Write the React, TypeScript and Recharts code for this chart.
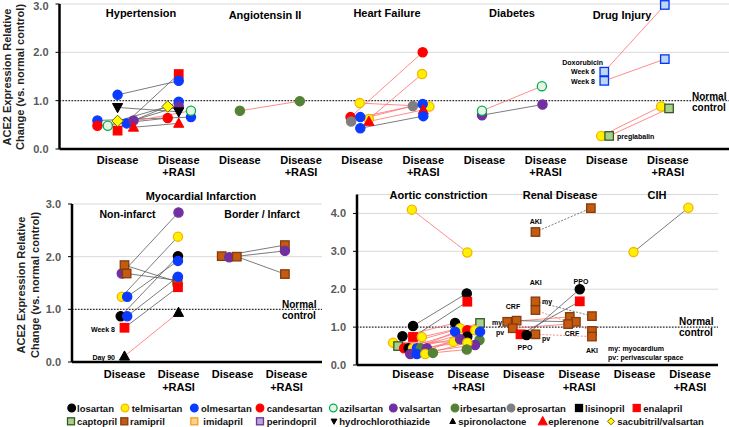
import React from 'react';
import { ScatterChart, Scatter, XAxis, YAxis, CartesianGrid, ReferenceLine } from 'recharts';

// [drug, disease x, disease y, +RASI x, +RASI y, link]
// x = category index (Disease / Disease+RASI) plus the small spread used in the figure
type Pair = [string, number, number, number, number, string];

const topCats = [0, 1, 2, 3, 4, 5, 6, 7, 8, 9];
const miCats = [0, 1, 2, 3];
const lowerCats = [0, 1, 2, 3, 4, 5];
const topTicks = [0, 1, 2, 3];
const lowerTicks = [0, 1, 2, 3, 4];

const hypertension: Pair[] = [
  ['enalapril', 0, 0.38, 1.0, 1.55, 'k'],
  ['olmesartan', 0, 1.12, 1.0, 1.41, 'k'],
  ['olmesartan', 0.15, 0.53, 1.0, 0.98, 'k'],
  ['olmesartan', -0.33, 0.59, 1.2, 0.66, 'k'],
  ['candesartan', -0.33, 0.48, 0.82, 0.64, 'k'],
  ['azilsartan', -0.16, 0.48, 1.2, 0.79, 'r'],
  ['sacubitril/valsartan', 0, 0.58, 0.82, 0.88, 'k'],
  ['valsartan', 0.26, 0.59, 1.0, 0.88, 'k'],
  ['hydrochlorothiazide', 0, 0.86, 1.0, 0.77, 'k'],
  ['eplerenone', 0.26, 0.45, 1.0, 0.53, 'k'],
];

const angiotensin: Pair[] = [
  ['irbesartan', 2.0, 0.79, 2.98, 0.99, 'r'],
];

const heartFailure: Pair[] = [
  ['candesartan', 3.81, 0.66, 4.99, 2.0, 'r'],
  ['telmisartan', 4.11, 0.62, 4.98, 1.55, 'r'],
  ['telmisartan', 3.96, 0.95, 5.1, 0.88, 'r'],
  ['eprosartan', 3.82, 0.57, 4.83, 0.89, 'r'],
  ['olmesartan', 3.97, 0.66, 4.99, 0.93, 'r'],
  ['eplerenone', 4.11, 0.57, 5.0, 0.81, 'r'],
  ['olmesartan', 3.97, 0.43, 5.0, 0.68, 'k'],
];

const diabetes: Pair[] = [
  ['valsartan', 5.96, 0.7, 6.95, 0.92, 'k'],
  ['azilsartan', 5.96, 0.79, 6.94, 1.3, 'r'],
];

const drugInjury: Pair[] = [
  ['doxorubicin', 7.96, 1.6, 8.95, 2.98, 'r'],
  ['doxorubicin', 7.96, 1.41, 8.95, 1.86, 'r'],
  ['telmisartan', 7.91, 0.27, 8.89, 0.88, 'r'],
  ['captopril', 8.04, 0.27, 9.02, 0.84, 'r'],
];

const miNonInfarct: Pair[] = [
  ['valsartan', -0.05, 1.68, 1.0, 2.84, 'k'],
  ['ramipril', 0, 1.84, 0.98, 1.52, 'k'],
  ['ramipril', 0.04, 1.68, 0.98, 1.55, 'k'],
  ['telmisartan', -0.05, 1.24, 0.99, 2.38, 'k'],
  ['losartan', -0.07, 0.87, 0.99, 2.01, 'k'],
  ['olmesartan', 0.05, 1.24, 0.99, 1.92, 'k'],
  ['olmesartan', 0.05, 0.87, 0.99, 1.62, 'k'],
  ['enalapril', 0, 0.65, 0.99, 1.42, 'k'],
  ['spironolactone', 0, 0.11, 1.0, 0.94, 'r'],
];

const miBorder: Pair[] = [
  ['ramipril', 1.8, 2.01, 2.97, 2.22, 'k'],
  ['valsartan', 1.94, 1.99, 2.97, 2.11, 'k'],
  ['ramipril', 2.08, 2.0, 2.97, 1.67, 'k'],
];

const aortic: Pair[] = [
  ['telmisartan', -0.02, 4.1, 0.98, 2.97, 'r'],
  ['losartan', 0, 1.03, 0.97, 1.89, 'k'],
  ['losartan', -0.19, 0.76, 0.76, 1.11, 'r'],
  ['enalapril', 0, 0.74, 0.98, 1.67, 'k'],
  ['telmisartan', 0.16, 0.74, 0.85, 0.97, 'r'],
  ['telmisartan', -0.36, 0.59, 0.73, 0.61, 'r'],
  ['captopril', -0.27, 0.5, 1.21, 1.11, 'r'],
  ['candesartan', -0.16, 0.44, 0.98, 0.92, 'r'],
  ['losartan', -0.08, 0.44, 0.98, 0.75, 'r'],
  ['telmisartan', 0, 0.44, 1.12, 0.92, 'r'],
  ['olmesartan', 0.07, 0.44, 0.76, 0.88, 'r'],
  ['irbesartan', 0.14, 0.44, 1.2, 0.66, 'r'],
  ['valsartan', 0.25, 0.44, 0.85, 0.68, 'r'],
  ['valsartan', -0.05, 0.29, 1.12, 0.53, 'r'],
  ['olmesartan', 0.07, 0.29, 1.21, 0.88, 'r'],
  ['telmisartan', 0.22, 0.29, 0.98, 0.59, 'r'],
  ['irbesartan', 0.36, 0.32, 0.97, 0.41, 'r'],
];

const renal: Pair[] = [
  ['ramipril', 2.21, 3.51, 3.21, 4.14, 'kd'],
  ['ramipril', 2.21, 1.68, 3.23, 1.29, 'kd'],
  ['ramipril', 2.21, 1.45, 3.23, 0.9, 'rd'],
  ['ramipril', 1.7, 1.14, 2.83, 1.27, 'r'],
  ['ramipril', 1.87, 1.17, 2.94, 1.14, 'k'],
  ['ramipril', 1.8, 0.97, 2.8, 1.08, 'r'],
  ['ramipril', 2.21, 0.81, 3.23, 0.75, 'rd'],
  ['enalapril', 1.94, 0.81, 3.01, 1.68, 'k'],
  ['losartan', 2.05, 0.79, 3.01, 2.0, 'k'],
];

const cih: Pair[] = [
  ['telmisartan', 3.98, 2.98, 4.97, 4.15, 'k'],
];

const legendRow1 = ['losartan', 'telmisartan', 'olmesartan', 'candesartan', 'azilsartan', 'valsartan', 'irbesartan', 'eprosartan', 'lisinopril', 'enalapril'];
const legendRow2 = ['captopril', 'ramipril', 'imidapril', 'perindopril', 'hydrochlorothiazide', 'spironolactone', 'eplerenone', 'sacubitril/valsartan'];

// shape, fill, stroke
const STYLE: Record<string, [string, string, string]> = {
  losartan: ['c', '#000000', '#000000'],
  telmisartan: ['c', '#FFF200', '#F5B400'],
  olmesartan: ['c', '#0B3BFF', '#0B3BFF'],
  candesartan: ['c', '#FF0000', '#FF0000'],
  azilsartan: ['c', '#E6F4E6', '#00B050'],
  valsartan: ['c', '#7030A0', '#7030A0'],
  irbesartan: ['c', '#548235', '#548235'],
  eprosartan: ['c', '#7F7F7F', '#7F7F7F'],
  lisinopril: ['q', '#000000', '#000000'],
  enalapril: ['q', '#FF0000', '#FF0000'],
  captopril: ['q', '#A9D18E', '#385723'],
  ramipril: ['q', '#C55A11', '#843C0C'],
  imidapril: ['q', '#FFD08A', '#F4A020'],
  perindopril: ['q', '#B4A7D6', '#7030A0'],
  hydrochlorothiazide: ['v', '#000000', '#000000'],
  spironolactone: ['u', '#000000', '#000000'],
  eplerenone: ['u', '#FF0000', '#FF0000'],
  'sacubitril/valsartan': ['m', '#FFFF00', '#7F6000'],
  doxorubicin: ['q', '#BDD7EE', '#0033FF'],
};

const LINKS: Record<string, object> = {
  r: { stroke: '#FF6F6F', strokeWidth: 0.8 },
  k: { stroke: '#5A5A5A', strokeWidth: 0.8 },
  rd: { stroke: '#FF6F6F', strokeWidth: 0.8, strokeDasharray: '2 1.5' },
  kd: { stroke: '#5A5A5A', strokeWidth: 0.8, strokeDasharray: '2 1.5' },
};

const Glyph = ({ d, cx, cy, r }: { d: string; cx: number; cy: number; r: number }) => {
  const [s, f, k] = STYLE[d];
  if (s === 'c') return <circle cx={cx} cy={cy} r={r} fill={f} stroke={k} strokeWidth={1.3} />;
  if (s === 'q') {
    const h = r * 0.92;
    return <rect x={cx - h} y={cy - h} width={h * 2} height={h * 2} fill={f} stroke={k} strokeWidth={1.3} />;
  }
  if (s === 'u')
    return <polygon points={`${cx},${cy - r * 1.15} ${cx + r * 1.1},${cy + r * 0.85} ${cx - r * 1.1},${cy + r * 0.85}`} fill={f} stroke={k} />;
  if (s === 'v')
    return <polygon points={`${cx},${cy + r * 1.15} ${cx + r * 1.1},${cy - r * 0.85} ${cx - r * 1.1},${cy - r * 0.85}`} fill={f} stroke={k} />;
  return <polygon points={`${cx},${cy - r * 1.25} ${cx + r * 1.25},${cy} ${cx},${cy + r * 1.25} ${cx - r * 1.25},${cy}`} fill={f} stroke={k} strokeWidth={1} />;
};

const CatTick = (props: any) => {
  const { x, y, payload, dy, gap } = props;
  return (
    <text x={x} y={y + dy} textAnchor="middle" fontSize={11} fontWeight="bold" fill="#000">
      <tspan x={x}>Disease</tspan>
      {payload.value % 2 === 1 && <tspan x={x} dy={gap}>+RASI</tspan>}
    </text>
  );
};

const Nothing = () => <g />;

const Marker = (p: any) => <Glyph d={p.payload.d} cx={p.cx} cy={p.cy} r={4.6} />;

interface PanelProps {
  pairs: Pair[];
  width: number;
  height: number;
  margin: { top: number; right: number; bottom: number; left: number };
  xDomain: [number, number];
  cats: number[];
  yDomain: [number, number];
  yTicks: number[];
  yWidth: number;
  dy: number;
  gap: number;
}

const Panel = ({ pairs, width, height, margin, xDomain, cats, yDomain, yTicks, yWidth, dy, gap }: PanelProps) => {
  const points = pairs.flatMap((p) => [
    { x: p[1], y: p[2], d: p[0] },
    { x: p[3], y: p[4], d: p[0] },
  ]);
  return (
    <ScatterChart width={width} height={height} margin={margin}>
      <CartesianGrid vertical={false} stroke="#D9D9D9" />
      <XAxis
        type="number"
        dataKey="x"
        domain={xDomain}
        ticks={cats}
        interval={0}
        tickSize={0}
        tickMargin={0}
        tickLine={false}
        height={30}
        axisLine={{ stroke: '#000', strokeWidth: 2.5 }}
        tick={<CatTick dy={dy} gap={gap} />}
      />
      <YAxis
        type="number"
        dataKey="y"
        domain={yDomain}
        ticks={yTicks}
        width={yWidth}
        tickSize={4}
        tickMargin={7}
        tickFormatter={(v: number) => v.toFixed(1)}
        tick={{ fill: '#595959', fontSize: 11, fontWeight: 'bold' }}
        tickLine={{ stroke: '#000' }}
        axisLine={{ stroke: '#000', strokeWidth: 2.5 }}
      />
      <ReferenceLine y={1} stroke="#333" strokeDasharray="1.5 1.5" strokeWidth={1.3} />
      {pairs.map((p, i) => (
        <Scatter
          key={i}
          data={[{ x: p[1], y: p[2] }, { x: p[3], y: p[4] }]}
          fill="none"
          line={LINKS[p[5]]}
          shape={Nothing}
          isAnimationActive={false}
        />
      ))}
      <Scatter data={points} shape={Marker} isAnimationActive={false} />
    </ScatterChart>
  );
};

// [text, x, y, anchor, size]
const notes: [string, number, number, string, number][] = [
  ['Hypertension', 141, 13, 'middle', 11],
  ['Angiotensin II', 265, 15, 'middle', 11],
  ['Heart Failure', 387, 13, 'middle', 11],
  ['Diabetes', 512, 13, 'middle', 11],
  ['Drug Injury', 622, 15, 'middle', 11],
  ['Doxorubicin', 603, 62, 'end', 7],
  ['Week 6', 595, 71.5, 'end', 7],
  ['Week 8', 595, 81.5, 'end', 7],
  ['preglabalin', 617, 136, 'start', 7],
  ['Normal', 692, 96, 'start', 10],
  ['control', 692, 107.5, 'start', 10],
  ['Myocardial Infarction', 201, 196, 'middle', 11],
  ['Non-infarct', 127.5, 214, 'middle', 10.5],
  ['Border / Infarct', 262, 214, 'middle', 10.5],
  ['Normal', 282, 304, 'start', 10],
  ['control', 282, 315, 'start', 10],
  ['Week 8', 115, 329, 'end', 7],
  ['Day 90', 115, 357, 'end', 7],
  ['Aortic constriction', 438.5, 195, 'middle', 11],
  ['Renal Disease', 560, 195, 'middle', 11],
  ['CIH', 657, 195, 'middle', 11],
  ['AKI', 535.7, 221, 'middle', 7],
  ['AKI', 535.7, 282, 'middle', 7],
  ['PPO', 581, 281, 'middle', 7],
  ['my', 542, 301, 'start', 7],
  ['CRF', 513, 306, 'middle', 7],
  ['my', 497, 322, 'middle', 7],
  ['pv', 500, 332, 'middle', 7],
  ['PPO', 525, 347, 'middle', 7],
  ['pv', 542, 338.5, 'start', 7],
  ['CRF', 572, 333.5, 'middle', 7],
  ['AKI', 592, 350, 'middle', 7],
  ['my: myocardium', 608, 348, 'start', 7],
  ['pv: perivascular space', 608, 357, 'start', 7],
  ['Normal', 679, 321, 'start', 10],
  ['control', 679, 332, 'start', 10],
];

const legendMarkX = [
  [71.7, 125, 194.3, 260, 333.3, 393.3, 455, 511, 579, 636.7],
  [71, 124.3, 194.3, 260, 334, 452.7, 542.7, 611],
];
const legendTextX = [
  [77, 131.7, 201, 266.7, 339.3, 399.3, 460, 516.7, 585, 643.3],
  [77, 130, 203.3, 266.7, 339.3, 458.3, 548.3, 617.3],
];
const legendMarkR: Record<string, number> = {
  hydrochlorothiazide: 2.6,
  spironolactone: 2.6,
  'sacubitril/valsartan': 2.8,
  eplerenone: 4.2,
};

const YTitle = ({ x, y, gap }: { x: number; y: number; gap: number }) => (
  <g fontSize={11} fontWeight="bold" fill="#222" textAnchor="middle">
    <text transform={`translate(${x},${y}) rotate(-90)`} dominantBaseline="central">ACE2 Expression Relative</text>
    <text transform={`translate(${x + gap},${y}) rotate(-90)`} dominantBaseline="central">Change (vs. normal control)</text>
  </g>
);

export default function App() {
  return (
    <div
      style={{
        position: 'absolute',
        left: 0,
        top: 0,
        width: 729,
        height: 427,
        background: '#fff',
        fontFamily: "'Liberation Sans', Arial, sans-serif",
      }}
    >
      <div style={{ position: 'absolute', left: 0, top: 0 }}>
        <Panel
          pairs={[...hypertension, ...angiotensin, ...heartFailure, ...diabetes, ...drugInjury]}
          width={729}
          height={184}
          margin={{ top: 4, right: 0, bottom: 5, left: 0 }}
          xDomain={[-0.95, 10]}
          cats={topCats}
          yDomain={[0, 3]}
          yTicks={topTicks}
          yWidth={59.5}
          dy={14.7}
          gap={12.6}
        />
      </div>
      <div style={{ position: 'absolute', left: 0, top: 190 }}>
        <Panel
          pairs={[...miNonInfarct, ...miBorder]}
          width={324}
          height={202}
          margin={{ top: 14, right: 2, bottom: 0, left: 0 }}
          xDomain={[-0.972, 3.657]}
          cats={miCats}
          yDomain={[0, 3]}
          yTicks={topTicks}
          yWidth={72}
          dy={15.5}
          gap={13}
        />
      </div>
      <div style={{ position: 'absolute', left: 324, top: 190 }}>
        <Panel
          pairs={[...aortic, ...renal, ...cih]}
          width={405}
          height={205}
          margin={{ top: 4.5, right: 11, bottom: 0, left: 0 }}
          xDomain={[-1.011, 5.505]}
          cats={lowerCats}
          yDomain={[0, 4.5]}
          yTicks={lowerTicks}
          yWidth={33}
          dy={12.5}
          gap={13}
        />
      </div>
      <svg width={729} height={427} style={{ position: 'absolute', left: 0, top: 0, pointerEvents: 'none' }}>
        <YTitle x={7} y={77} gap={13} />
        <YTitle x={21} y={285} gap={14} />
        {notes.map(([t, x, y, a, s], i) => (
          <text key={i} x={x} y={y} textAnchor={a as any} dominantBaseline="central" fontSize={s} fontWeight="bold" fill="#000">
            {t}
          </text>
        ))}
        {[legendRow1, legendRow2].map((row, ri) =>
          row.map((d, i) => (
            <g key={d}>
              <Glyph d={d} cx={legendMarkX[ri][i]} cy={ri === 0 ? 408 : 421.3} r={legendMarkR[d] ?? 3.8} />
              <text x={legendTextX[ri][i]} y={ri === 0 ? 408 : 421.3} dominantBaseline="central" fontSize={9.5} fontWeight="bold" fill="#111">
                {d}
              </text>
            </g>
          ))
        )}
      </svg>
    </div>
  );
}
